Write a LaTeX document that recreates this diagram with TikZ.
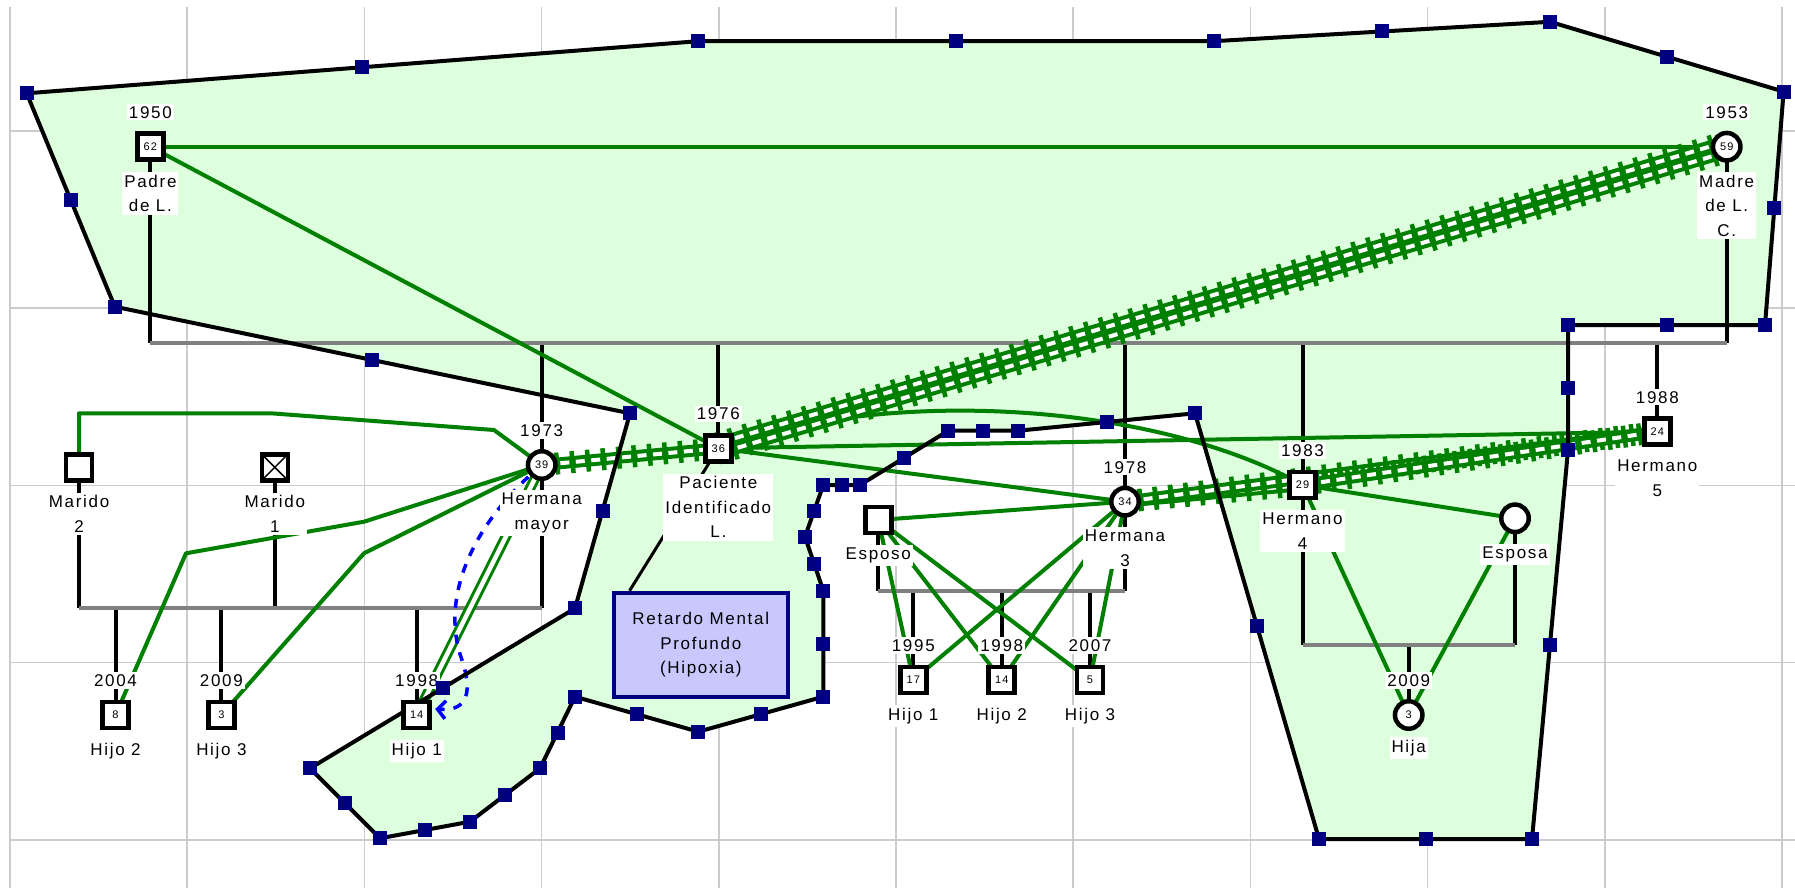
\documentclass[tikz,border=0pt]{standalone}
\usepackage{fontspec}
\setmainfont{Liberation Sans}[LetterSpace=10]
\usetikzlibrary{arrows.meta,decorations.markings}

\definecolor{relgreen}{RGB}{0,128,0}
\definecolor{zonegreen}{RGB}{221,255,221}
\definecolor{handlenavy}{RGB}{0,0,128}
\definecolor{gridgray}{RGB}{204,204,204}
\definecolor{linegray}{RGB}{128,128,128}
\definecolor{notelilac}{RGB}{200,200,255}

\def\lblfont{\fontsize{17}{24.5}\selectfont}
\def\agefont{\fontsize{11}{12}\selectfont}

% outline of the shaded zone, corner by corner
\def\zonepts{26.7/93.3, 698/41.2, 1213.5/41.2, 1550/21.8, 1783.6/91.6, 1765/325, 1568/325, 1568/450, 1532/839, 1319/839, 1195/413.3, 1018.3/430.7, 948.3/430.7, 860/485, 823.3/485, 805/536.7, 823.3/590.7, 823.3/696.7, 698.3/731.7, 575/696.7, 540/768.3, 470/821.7, 380/838.3, 310/768.3, 575/608.3, 630/413.3, 114.8/306.7}

\tikzset{
  male/.style={draw, line width=4.5pt, fill=white, minimum size=26pt, inner sep=0pt, font=\agefont},
  female/.style={male, circle, minimum size=27.5pt},
  yearlbl/.style={fill=white, inner sep=2pt, font=\lblfont},
  namelbl/.style={fill=white, inner xsep=2pt, inner ysep=3pt, align=center, anchor=north, font=\lblfont},
  kin/.style={line width=4pt},
  sibline/.style={draw=linegray, line width=4pt},
  rel/.style={draw=relgreen, line width=4pt, line join=round},
  closerel/.style={draw=relgreen, line width=3pt, double=white, double distance=4.5pt},
  hostile/.style={draw=relgreen, line width=12pt,
    postaction={draw=white, line width=4pt, dash pattern=on 9pt off 6.5pt, dash phase=12.25pt},
    postaction={decorate, decoration={markings,
      mark=between positions 0 and 1 step 15.5pt with {\draw[relgreen, solid, line width=4.5pt] (0pt,-11pt) -- (0pt,11pt);}}}},
  careline/.style={draw=blue, line width=3.5pt, dash pattern=on 9pt off 9pt, -{Straight Barb[length=8pt,width=18pt]}},
  zoneline/.style={line width=4pt, line join=round},
  gridline/.style={draw=gridgray, line width=1.5pt},
  notebox/.style={draw=handlenavy, fill=notelilac, line width=4.5pt, minimum width=174pt, minimum height=104pt, align=center, font=\lblfont}
}

\begin{document}
\begin{tikzpicture}[x=1pt, y=-1pt]
	%%%%% START %%%%%
	\useasboundingbox[fill=white] (0,0) rectangle (1795,888);
	
	\foreach \gx in {0,...,10} \draw[gridline] ({10+177.2*\gx},7) -- ({10+177.2*\gx},888);
	\foreach \gy in {0,...,4} \draw[gridline] (10,{131+177.2*\gy}) -- (1795,{131+177.2*\gy});
	
	\fill[zonegreen] (114.8,306.7) \foreach \x/\y in \zonepts {-- (\x,\y)} -- cycle;
	
	% people
	\coordinate (padre) at (150.4,146.7);
	\coordinate (madre) at (1726.7,146.7);
	\coordinate (hm) at (541.7,465);
	\coordinate (pac) at (718.3,448.3);
	\coordinate (h3) at (1125,501.7);
	\coordinate (h4) at (1302.5,485);
	\coordinate (h5) at (1657.3,431.7);
	\coordinate (mar2) at (79,467.3);
	\coordinate (mar1) at (274.8,467.3);
	\coordinate (ha1) at (416.7,715);
	\coordinate (ha2) at (115.5,715);
	\coordinate (ha3) at (221.4,715);
	\coordinate (esposo) at (878.3,520);
	\coordinate (hb1) at (913.3,680);
	\coordinate (hb2) at (1001.7,680);
	\coordinate (hb3) at (1090,680);
	\coordinate (esposa) at (1515,518.3);
	\coordinate (hija) at (1408.7,715);
	
	\coordinate (sib) at (0,343);
	\coordinate (mA) at (0,608.3);
	\coordinate (mB) at (0,590.7);
	\coordinate (mC) at (0,645);
	
	% family lines
	\foreach \p in {padre,madre,hm,pac,h3,h4,h5} \draw[kin] (\p) -- (\p |- sib);
	\foreach \p in {mar2,mar1,hm,ha1,ha2,ha3} \draw[kin] (\p) -- (\p |- mA);
	\foreach \p in {esposo,h3,hb1,hb2,hb3} \draw[kin] (\p) -- (\p |- mB);
	\foreach \p in {h4,esposa,hija} \draw[kin] (\p) -- (\p |- mC);
	\draw[sibline] (padre |- sib) -- (madre |- sib);
	\draw[sibline] (mar2 |- mA) -- (hm |- mA);
	\draw[sibline] (esposo |- mB) -- (h3 |- mB);
	\draw[sibline] (h4 |- mC) -- (esposa |- mC);
	
	% emotional links
	\draw[rel] (padre) -- (madre);
	\draw[rel] (padre) -- (pac);
	\draw[rel] (mar2) -- (mar2 |- 0,413.3) -- (271,413.3) -- (494,430) -- (hm);
	\draw[rel] (hm) -- (364,521.7) -- (186,553.3) -- (ha2);
	\draw[rel] (hm) -- (364,553.3) -- (ha3);
	\draw[closerel] (hm) -- (ha1);
	\draw[rel] (esposo) -- (h3);
	\foreach \c in {hb1,hb2,hb3} {
		\draw[rel] (esposo) -- (\c);
		\draw[rel] (h3) -- (\c);
	}
	\draw[rel] (h4) -- (esposa);
	\draw[rel] (h4) -- (hija);
	\draw[rel] (esposa) -- (hija);
	\draw[rel] (pac) -- (h3);
	\draw[rel] (pac) -- (h5);
	\draw[rel] (pac) .. controls (880,388) and (1150,400) .. (h4);
	
	\draw[hostile] (hm) -- (pac);
	\draw[hostile] ([shift={(-1.4,-4.8)}]pac) -- ([shift={(-1.4,-4.8)}]madre);
	\draw[hostile] ([shift={(1.4,4.8)}]pac) -- ([shift={(1.4,4.8)}]madre);
	\draw[hostile] (h3) -- (h4);
	\draw[hostile] (h3) -- (h5);
	\draw[hostile] (h4) -- (h5);
	
	\draw[careline] (hm) .. controls (470,525) and (440,600) .. (462,660) .. controls (475,700) and (462,711) .. ([xshift=18.5pt, yshift=6pt]ha1);
	
	\draw[zoneline] (114.8,306.7) \foreach \x/\y in \zonepts {-- (\x,\y)} -- cycle;
	
	% symbols
	\node[male] (padreS) at (padre) {62};
	\node[female] (madreS) at (madre) {59};
	\node[female] (hmS) at (hm) {39};
	\node[male] (pacS) at (pac) {36};
	\node[female] (h3S) at (h3) {34};
	\node[male] (h4S) at (h4) {29};
	\node[male] (h5S) at (h5) {24};
	\node[male] (mar2S) at (mar2) {};
	\node[male] (mar1S) at (mar1) {};
	\draw[line width=1.5pt] ([xshift=4pt,yshift=-4pt]mar1S.north west) -- ([xshift=-4pt,yshift=4pt]mar1S.south east);
	\draw[line width=1.5pt] ([xshift=-4pt,yshift=-4pt]mar1S.north east) -- ([xshift=4pt,yshift=4pt]mar1S.south west);
	\node[male] (ha1S) at (ha1) {14};
	\node[male] (ha2S) at (ha2) {8};
	\node[male] (ha3S) at (ha3) {3};
	\node[male] (esposoS) at (esposo) {};
	\node[male] (hb1S) at (hb1) {17};
	\node[male] (hb2S) at (hb2) {14};
	\node[male] (hb3S) at (hb3) {5};
	\node[female] (esposaS) at (esposa) {};
	\node[female] (hijaS) at (hija) {3};
	
	\node[notebox] (rm) at (700.8,645) {Retardo Mental\\Profundo\\(Hipoxia)};
	\draw[line width=3pt] (pacS) -- ([xshift=18pt]rm.north west);
	
	% labels
	\node[yearlbl] (padreY) at ([yshift=34.5pt]padre) {1950};
	\node[namelbl] (padreN) at ([yshift=-25pt]padre) {Padre\\de L.};
	\node[yearlbl] (madreY) at ([yshift=34.5pt]madre) {1953};
	\node[namelbl] (madreN) at ([yshift=-25pt]madre) {Madre\\de L.\\C.};
	\node[yearlbl] (hmY) at ([yshift=34.5pt]hm) {1973};
	\node[namelbl] (hmN) at ([yshift=-25pt]hm) {Hermana\\mayor};
	\node[yearlbl] (pacY) at ([yshift=34.5pt]pac) {1976};
	\node[namelbl] (pacN) at ([yshift=-25pt]pac) {Paciente\\Identificado\\L.};
	\node[yearlbl] (h3Y) at ([yshift=34.5pt]h3) {1978};
	\node[namelbl] (h3N) at ([yshift=-25pt]h3) {Hermana\\3};
	\node[yearlbl] (h4Y) at ([yshift=34.5pt]h4) {1983};
	\node[namelbl] (h4N) at ([yshift=-25pt]h4) {Hermano\\4};
	\node[yearlbl] (h5Y) at ([yshift=34.5pt]h5) {1988};
	\node[namelbl] (h5N) at ([yshift=-25pt]h5) {Hermano\\5};
	\node[namelbl] (mar2N) at ([yshift=-25pt]mar2) {Marido\\2};
	\node[namelbl] (mar1N) at ([yshift=-25pt]mar1) {Marido\\1};
	\node[yearlbl] (ha1Y) at ([yshift=34.5pt]ha1) {1998};
	\node[namelbl] (ha1N) at ([yshift=-25pt]ha1) {Hijo 1};
	\node[yearlbl] (ha2Y) at ([yshift=34.5pt]ha2) {2004};
	\node[namelbl] (ha2N) at ([yshift=-25pt]ha2) {Hijo 2};
	\node[yearlbl] (ha3Y) at ([yshift=34.5pt]ha3) {2009};
	\node[namelbl] (ha3N) at ([yshift=-25pt]ha3) {Hijo 3};
	\node[namelbl] (esposoN) at ([yshift=-25pt]esposo) {Esposo};
	\node[yearlbl] (hb1Y) at ([yshift=34.5pt]hb1) {1995};
	\node[namelbl] (hb1N) at ([yshift=-25pt]hb1) {Hijo 1};
	\node[yearlbl] (hb2Y) at ([yshift=34.5pt]hb2) {1998};
	\node[namelbl] (hb2N) at ([yshift=-25pt]hb2) {Hijo 2};
	\node[yearlbl] (hb3Y) at ([yshift=34.5pt]hb3) {2007};
	\node[namelbl] (hb3N) at ([yshift=-25pt]hb3) {Hijo 3};
	\node[namelbl] (esposaN) at ([yshift=-25pt]esposa) {Esposa};
	\node[yearlbl] (hijaY) at ([yshift=34.5pt]hija) {2009};
	\node[namelbl] (hijaN) at ([yshift=-22pt]hija) {Hija};
	
	% handles on the zone outline
	\foreach \x/\y [remember=\x as \px (initially 114.8), remember=\y as \py (initially 306.7)] in \zonepts {
		\fill[handlenavy] ({\x-7},{\y-7}) rectangle +(14,14);
		\fill[handlenavy] ({(\x+\px)/2-7},{(\y+\py)/2-7}) rectangle +(14,14);
	}
	%%%%% END %%%%%
\end{tikzpicture}
\end{document}
